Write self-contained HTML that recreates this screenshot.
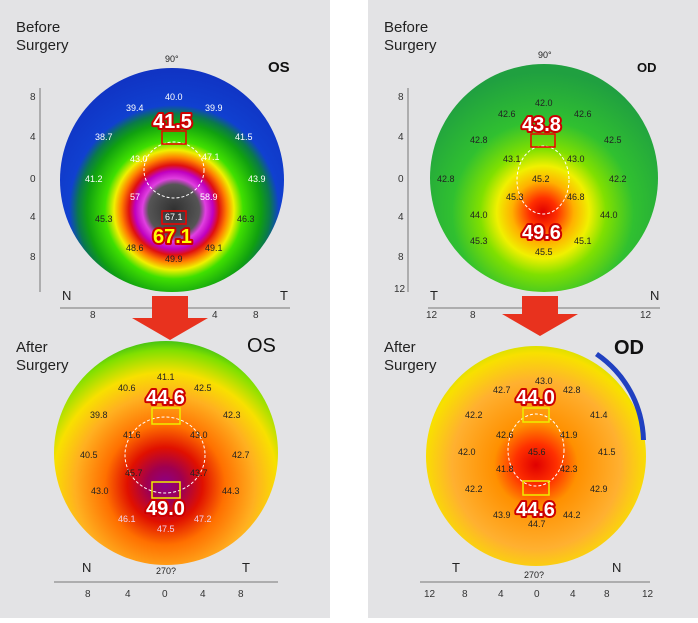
<!DOCTYPE html>
<html><head><style>
body{margin:0;width:698px;height:618px;background:#fff;overflow:hidden;font-family:"Liberation Sans",sans-serif}
</style></head><body>
<svg width="698" height="618" xmlns="http://www.w3.org/2000/svg" font-family="Liberation Sans, sans-serif">
<defs>
<radialGradient id="g1" gradientUnits="userSpaceOnUse" cx="174" cy="210" r="150">
<stop offset="0" stop-color="#303030"/><stop offset="0.17" stop-color="#555"/>
<stop offset="0.21" stop-color="#e040e0"/><stop offset="0.26" stop-color="#c000c0"/>
<stop offset="0.3" stop-color="#e01010"/><stop offset="0.35" stop-color="#ff8000"/>
<stop offset="0.4" stop-color="#f0f000"/><stop offset="0.46" stop-color="#40e000"/>
<stop offset="0.58" stop-color="#10a010"/><stop offset="0.64" stop-color="#0a7a4a"/>
<stop offset="0.7" stop-color="#1040d0"/><stop offset="1" stop-color="#1030c0"/>
</radialGradient>
<radialGradient id="g2" gradientUnits="userSpaceOnUse" cx="543" cy="212" r="140">
<stop offset="0" stop-color="#e00000"/><stop offset="0.1" stop-color="#ff3000"/>
<stop offset="0.22" stop-color="#ffb000"/><stop offset="0.33" stop-color="#f0f000"/>
<stop offset="0.45" stop-color="#80e000"/><stop offset="0.65" stop-color="#30c030"/>
<stop offset="1" stop-color="#20a040"/>
</radialGradient>
<radialGradient id="g3" gradientUnits="userSpaceOnUse" cx="165" cy="485" r="150">
<stop offset="0" stop-color="#8a008a"/><stop offset="0.12" stop-color="#a00050"/>
<stop offset="0.25" stop-color="#e01000"/><stop offset="0.4" stop-color="#ff7000"/>
<stop offset="0.6" stop-color="#ffb020"/><stop offset="0.75" stop-color="#f8e000"/>
<stop offset="0.9" stop-color="#80e000"/><stop offset="1" stop-color="#20b020"/>
</radialGradient>
<radialGradient id="g4" gradientUnits="userSpaceOnUse" cx="536" cy="465" r="140">
<stop offset="0" stop-color="#e00000"/><stop offset="0.15" stop-color="#ff3000"/>
<stop offset="0.3" stop-color="#ff9000"/><stop offset="0.6" stop-color="#ffb030"/>
<stop offset="0.8" stop-color="#f8e000"/><stop offset="1" stop-color="#90e000"/>
</radialGradient>
</defs>
<rect x="0" y="0" width="330" height="618" fill="#e3e3e5"/>
<rect x="368" y="0" width="330" height="618" fill="#e3e3e5"/>
<g font-size="15" fill="#222">
<text x="16" y="32">Before</text><text x="16" y="50">Surgery</text>
<text x="16" y="352">After</text><text x="16" y="370">Surgery</text>
<text x="384" y="32">Before</text><text x="384" y="50">Surgery</text>
<text x="384" y="352">After</text><text x="384" y="370">Surgery</text>
</g>
<g font-weight="bold" fill="#111">
<text x="268" y="72" font-size="15">OS</text>
<text x="637" y="72" font-size="13">OD</text>
<text x="247" y="352" font-size="20" font-weight="normal">OS</text>
<text x="614" y="354" font-size="20">OD</text>
</g>
<circle cx="172" cy="180" r="112" fill="url(#g1)"/>
<circle cx="544" cy="178" r="114" fill="url(#g2)"/>
<circle cx="166" cy="453" r="112" fill="url(#g3)"/>
<circle cx="536" cy="456" r="110" fill="url(#g4)"/>
<path d="M598 352 A110 110 0 0 1 646 440 L641 440 A105 105 0 0 0 595 356Z" fill="#2040c0"/>
<g stroke="#777" fill="none" stroke-width="1">
<line x1="40" y1="88" x2="40" y2="292"/><line x1="408" y1="88" x2="408" y2="292"/>
<line x1="60" y1="308" x2="290" y2="308"/><line x1="428" y1="308" x2="660" y2="308"/>
<line x1="54" y1="582" x2="278" y2="582"/><line x1="420" y1="582" x2="650" y2="582"/>
</g>
<g font-size="10" fill="#333">
<text x="30" y="100">8</text><text x="30" y="140">4</text><text x="30" y="182">0</text><text x="30" y="220">4</text><text x="30" y="260">8</text>
<text x="398" y="100">8</text><text x="398" y="140">4</text><text x="398" y="182">0</text><text x="398" y="220">4</text><text x="398" y="260">8</text><text x="394" y="292">12</text>
<text x="90" y="318">8</text><text x="212" y="318">4</text><text x="253" y="318">8</text>
<text x="426" y="318">12</text><text x="470" y="318">8</text><text x="640" y="318">12</text>
<text x="85" y="597">8</text><text x="125" y="597">4</text><text x="162" y="597">0</text><text x="200" y="597">4</text><text x="238" y="597">8</text>
<text x="424" y="597">12</text><text x="462" y="597">8</text><text x="498" y="597">4</text><text x="534" y="597">0</text><text x="570" y="597">4</text><text x="604" y="597">8</text><text x="642" y="597">12</text>
</g>
<g font-size="13" fill="#222">
<text x="62" y="300">N</text><text x="280" y="300">T</text>
<text x="430" y="300">T</text><text x="650" y="300">N</text>
<text x="82" y="572">N</text><text x="242" y="572">T</text>
<text x="452" y="572">T</text><text x="612" y="572">N</text>
</g>
<g stroke="#fff" stroke-dasharray="3,2" fill="none">
<ellipse cx="174" cy="170" rx="30" ry="28"/><ellipse cx="543" cy="180" rx="26" ry="34"/>
<ellipse cx="165" cy="455" rx="40" ry="38"/><ellipse cx="536" cy="450" rx="28" ry="36"/>
</g>
<path d="M152 296 H188 V318 H208 L170 340 L132 318 H152Z" fill="#e8321e"/>
<path d="M522 296 H558 V314 H578 L540 336 L502 314 H522Z" fill="#e8321e"/>
<g font-size="9" fill="#fff">
<text x="165" y="100">40.0</text><text x="126" y="111">39.4</text><text x="205" y="111">39.9</text>
<text x="95" y="140">38.7</text><text x="235" y="140">41.5</text><text x="130" y="162">43.0</text><text x="202" y="160">47.1</text>
<text x="85" y="182">41.2</text><text x="248" y="182">43.9</text><text x="130" y="200">57</text><text x="200" y="200">58.9</text>
<text x="165" y="220">67.1</text>
</g>
<g font-size="9" fill="#222">
<text x="95" y="222">45.3</text><text x="237" y="222">46.3</text><text x="126" y="251">48.6</text><text x="205" y="251">49.1</text><text x="165" y="262">49.9</text>
<text x="535" y="106">42.0</text><text x="498" y="117">42.6</text><text x="574" y="117">42.6</text>
<text x="470" y="143">42.8</text><text x="604" y="143">42.5</text><text x="503" y="162">43.1</text><text x="567" y="162">43.0</text>
<text x="437" y="182">42.8</text><text x="532" y="182">45.2</text><text x="609" y="182">42.2</text>
<text x="506" y="200">45.3</text><text x="567" y="200">46.8</text><text x="470" y="218">44.0</text><text x="600" y="218">44.0</text>
<text x="470" y="244">45.3</text><text x="574" y="244">45.1</text><text x="535" y="255">45.5</text>
<text x="157" y="380">41.1</text><text x="118" y="391">40.6</text><text x="194" y="391">42.5</text>
<text x="90" y="418">39.8</text><text x="223" y="418">42.3</text><text x="123" y="438">41.6</text><text x="190" y="438">43.0</text>
<text x="80" y="458">40.5</text><text x="232" y="458">42.7</text><text x="125" y="476">45.7</text><text x="190" y="476">43.7</text>
<text x="91" y="494">43.0</text><text x="222" y="494">44.3</text>
<text x="535" y="384">43.0</text><text x="493" y="393">42.7</text><text x="563" y="393">42.8</text>
<text x="465" y="418">42.2</text><text x="590" y="418">41.4</text><text x="496" y="438">42.6</text><text x="560" y="438">41.9</text>
<text x="458" y="455">42.0</text><text x="528" y="455">45.6</text><text x="598" y="455">41.5</text>
<text x="496" y="472">41.8</text><text x="560" y="472">42.3</text><text x="465" y="492">42.2</text><text x="590" y="492">42.9</text>
<text x="493" y="518">43.9</text><text x="563" y="518">44.2</text><text x="528" y="527">44.7</text>
</g>
<g font-size="9" fill="#f0d0f0">
<text x="118" y="522">46.1</text><text x="194" y="522">47.2</text><text x="157" y="532">47.5</text>
</g>
<g fill="none" stroke-width="1.5">
<rect x="162" y="131" width="24" height="13" stroke="#e00"/><rect x="162" y="211" width="24" height="13" stroke="#e00"/>
<rect x="531" y="134" width="24" height="13" stroke="#e00"/>
<rect x="152" y="408" width="28" height="16" stroke="#ee0"/><rect x="152" y="482" width="28" height="16" stroke="#ee0"/>
<rect x="523" y="408" width="26" height="14" stroke="#ee0"/><rect x="523" y="481" width="26" height="14" stroke="#ee0"/>
</g>
<g font-size="20" font-weight="bold" stroke-width="4" paint-order="stroke" stroke-linejoin="round">
<text x="153" y="128" fill="#fff" stroke="#c00">41.5</text>
<text x="153" y="243" fill="#ff0" stroke="#c00">67.1</text>
<text x="522" y="131" fill="#fff" stroke="#c00">43.8</text>
<text x="522" y="239" fill="#fff" stroke="#c00">49.6</text>
<text x="146" y="404" fill="#fff" stroke="#c00">44.6</text>
<text x="146" y="515" fill="#fff" stroke="#c00">49.0</text>
<text x="516" y="404" fill="#fff" stroke="#c00">44.0</text>
<text x="516" y="516" fill="#fff" stroke="#c00">44.6</text>
</g>
<g font-size="9" fill="#222">
<text x="165" y="62">90°</text><text x="538" y="58">90°</text>
<text x="156" y="574">270?</text><text x="524" y="578">270?</text>
</g>
</svg>
</body></html>
